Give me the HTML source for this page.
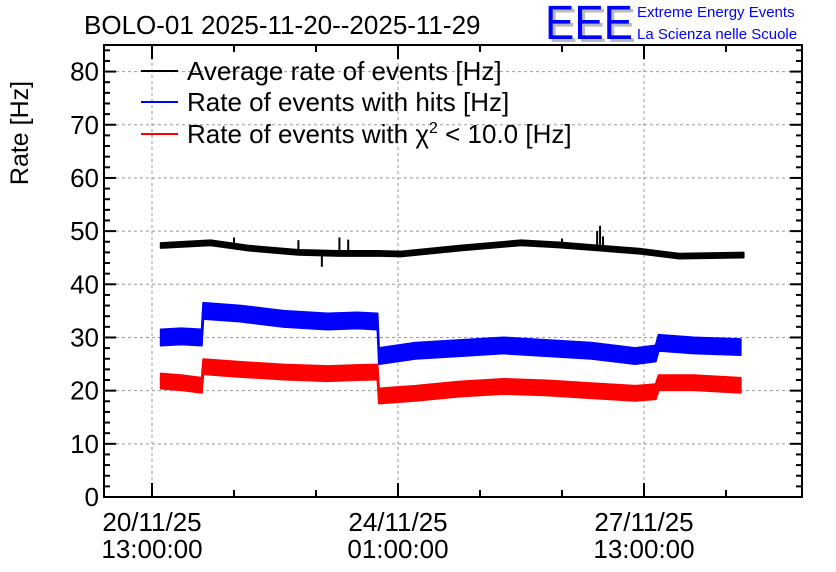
<!DOCTYPE html>
<html><head><meta charset="utf-8">
<style>
body{margin:0;background:#fff;}
svg{display:block;font-family:"Liberation Sans",sans-serif;}
</style></head>
<body>
<svg id="c" width="836" height="572" viewBox="0 0 836 572">
<text x="84" y="34" font-size="26">BOLO-01 2025-11-20--2025-11-29</text>
<g>
<text x="548" y="42" font-size="48" fill="#bbb" textLength="88" lengthAdjust="spacingAndGlyphs">EEE</text>
<text x="545" y="39" font-size="48" fill="#0000ff" textLength="88" lengthAdjust="spacingAndGlyphs">EEE</text>
<text x="637" y="17" font-size="15" fill="#0000ff">Extreme Energy Events</text>
<text x="637" y="39" font-size="15" fill="#0000ff">La Scienza nelle Scuole</text>
</g>
<text transform="translate(28,133) rotate(-90)" font-size="25" text-anchor="middle">Rate [Hz]</text>
<g id="grid"></g>
<g id="series"></g>
<rect x="104" y="45" width="698" height="452" fill="none" stroke="#000" stroke-width="2"/>
<g id="axes"></g>
<g>
<line x1="141" y1="71" x2="178" y2="71" stroke="#000" stroke-width="2"/>
<text x="187" y="80" font-size="26">Average rate of events [Hz]</text>
<line x1="141" y1="102" x2="178" y2="102" stroke="#0000ff" stroke-width="2"/>
<text x="187" y="111" font-size="26">Rate of events with hits [Hz]</text>
<line x1="141" y1="134" x2="178" y2="134" stroke="#ff0000" stroke-width="2"/>
<text x="187" y="143" font-size="26">Rate of events with χ<tspan font-size="16" dy="-10">2</tspan><tspan dy="10"> &lt; 10.0 [Hz]</tspan></text>
</g>
</svg>
<script>
const yTicks=[0,10,20,30,40,50,60,70,80];
const xTickHours=[0,84,168];
const xTickLabels1=["20/11/25","24/11/25","27/11/25"];
const xTickLabels2=["13:00:00","01:00:00","13:00:00"];
const blueT=[3,10,17,17.5,30,45,60,70,77,77.5,90,105,120,135,150,165,172,173,185,201];
const blueV=[30,30.2,30,35,34.5,33.5,33,33.2,33,26.5,27.5,28,28.5,28,27.5,26.5,27,29,28.5,28.2];
const redT=[3,10,17,17.5,30,45,60,70,77,77.5,90,105,120,135,150,165,172,173,185,201];
const redV=[21.8,21.5,21,24.5,24,23.5,23.2,23.4,23.5,19,19.5,20.3,20.8,20.5,20,19.5,19.8,21.5,21.5,21];
const blackT=[3,20,33,50,64,78,85,105,126,139,153,167,180,202];
const blackV=[47.3,47.8,46.8,46,45.8,45.8,45.7,46.8,47.8,47.4,46.8,46.2,45.3,45.5];
const spikeT=[28,50,58,64,67,140,152,153,154];
const spikeV=[48.8,48.3,43.3,48.8,48.4,48.6,50,51,49];
const bandBlue=1.5, bandRed=1.4, bandBlack=0.45;

const NS="http://www.w3.org/2000/svg";
const X0=104,X1=802,Y0=497,Y1=45,YMAX=85;
const xAt=h=>152+h*(246/84);
const yAt=v=>Y0-(v/YMAX)*(Y0-Y1);
function mk(tag,attrs,parent){const e=document.createElementNS(NS,tag);for(const k in attrs)e.setAttribute(k,attrs[k]);parent.appendChild(e);return e;}
const grid=document.getElementById('grid'),axes=document.getElementById('axes'),series=document.getElementById('series');
yTicks.forEach(v=>{
 if(v>0){const g=mk('line',{x1:X0,x2:X1,y1:yAt(v),y2:yAt(v),stroke:'#999','stroke-dasharray':'3,3'},grid);
 
 }
 const t=mk('text',{x:99,y:yAt(v)+9,'font-size':26,'text-anchor':'end'},axes);t.textContent=v;
 
 
});
for(let v=0;v<=YMAX;v+=2){const L=v%10===0?12:6;
 mk('line',{x1:X0,x2:X0+L,y1:yAt(v),y2:yAt(v),stroke:'#000','stroke-width':2},axes);
 mk('line',{x1:X1,x2:X1-L,y1:yAt(v),y2:yAt(v),stroke:'#000','stroke-width':2},axes);}
xTickHours.forEach((h,i)=>{
 const g=mk('line',{x1:xAt(h),x2:xAt(h),y1:Y1,y2:Y0,stroke:'#999','stroke-dasharray':'3,3'},grid);
 
 
 const t=mk('text',{x:xAt(h),y:531,'font-size':26,'text-anchor':'middle'},axes);t.textContent=xTickLabels1[i];
 
 
 const t2=mk('text',{x:xAt(h),y:558,'font-size':26,'text-anchor':'middle'},axes);t2.textContent=xTickLabels2[i];
 
 
});
for(let h=0;xAt(h)<X1;h+=28){const L=h%84===0?14:7;
 mk('line',{x1:xAt(h),x2:xAt(h),y1:Y0,y2:Y0-L,stroke:'#000','stroke-width':2},axes);
 mk('line',{x1:xAt(h),x2:xAt(h),y1:Y1,y2:Y1+L,stroke:'#000','stroke-width':2},axes);}
function band(T,V,w,color,name){
 const up=T.map((t,i)=>xAt(t)+','+yAt(V[i]+w)).join(' ');
 const dn=T.map((t,i)=>xAt(t)+','+yAt(V[i]-w)).reverse().join(' ');
 const p=mk('polygon',{points:up+' '+dn,fill:color,stroke:color,'stroke-width':2,'stroke-linejoin':'round'},series);
 
 
}
band(blueT,blueV,bandBlue,'#0000ff','series-hits-rate');
band(redT,redV,bandRed,'#ff0000','series-chi2-rate');
band(blackT,blackV,bandBlack,'#000','series-average-rate');
function interp(T,V,t){for(let i=1;i<T.length;i++){if(t<=T[i]){const f=(t-T[i-1])/(T[i]-T[i-1]);return V[i-1]+f*(V[i]-V[i-1]);}}return V[V.length-1];}
spikeT.forEach((t,i)=>{
 const s=mk('line',{x1:xAt(t),x2:xAt(t),y1:yAt(interp(blackT,blackV,t)),y2:yAt(spikeV[i]),stroke:'#000','stroke-width':2},series);
 
 
});
</script>
</body></html>
